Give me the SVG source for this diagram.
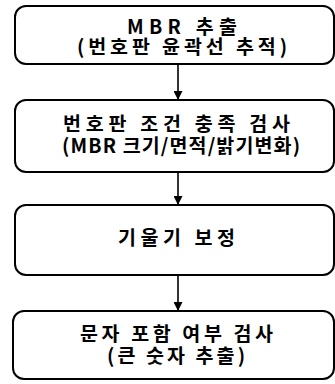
<svg xmlns="http://www.w3.org/2000/svg" width="335" height="384" viewBox="0 0 335 384">
<defs>
<style>
.box{fill:#fff;stroke:#000;stroke-width:2}
.t{font-family:"Noto Sans CJK KR","Noto Sans",sans-serif;font-size:19.5px;font-weight:700;fill:#000}
.ln{stroke:#000;stroke-width:1.6;fill:none}
</style>
<marker id="ah" viewBox="0 0 10 10" refX="10" refY="5" markerWidth="11" markerHeight="9" markerUnits="userSpaceOnUse" orient="auto">
<path d="M0,0 L10,5 L0,10 Z" fill="#000"/>
</marker>
</defs>
<rect width="335" height="384" fill="#fff"/>
<g id="connectors">
<line class="ln" x1="178" y1="64" x2="178" y2="100" marker-end="url(#ah)"/>
<line class="ln" x1="178" y1="172" x2="178" y2="205" marker-end="url(#ah)"/>
<line class="ln" x1="178" y1="275" x2="178" y2="311" marker-end="url(#ah)"/>
</g>
<g id="n1">
<rect class="box" x="15" y="6" width="319" height="58" rx="11"/>
<text class="t"><tspan x="127" y="34" textLength="110" lengthAdjust="spacing">MBR 추출</tspan><tspan x="77" y="54" textLength="210" lengthAdjust="spacing">(번호판 윤곽선 추적)</tspan></text>
</g>
<g id="n2">
<rect class="box" x="15" y="100" width="319" height="72" rx="11"/>
<text class="t"><tspan x="63" y="131" textLength="227" lengthAdjust="spacing">번호판 조건 충족 검사</tspan><tspan x="62" y="153" textLength="238" lengthAdjust="spacing">(MBR 크기/면적/밝기변화)</tspan></text>
</g>
<g id="n3">
<rect class="box" x="15" y="205" width="319" height="70" rx="11"/>
<text class="t" x="118" y="245" textLength="117" lengthAdjust="spacing">기울기 보정</text>
</g>
<g id="n4">
<rect class="box" x="13" y="311" width="321" height="68" rx="11"/>
<text class="t"><tspan x="80" y="341" textLength="193" lengthAdjust="spacing">문자 포함 여부 검사</tspan><tspan x="107" y="363" textLength="138" lengthAdjust="spacing">(큰 숫자 추출)</tspan></text>
</g>
</svg>
